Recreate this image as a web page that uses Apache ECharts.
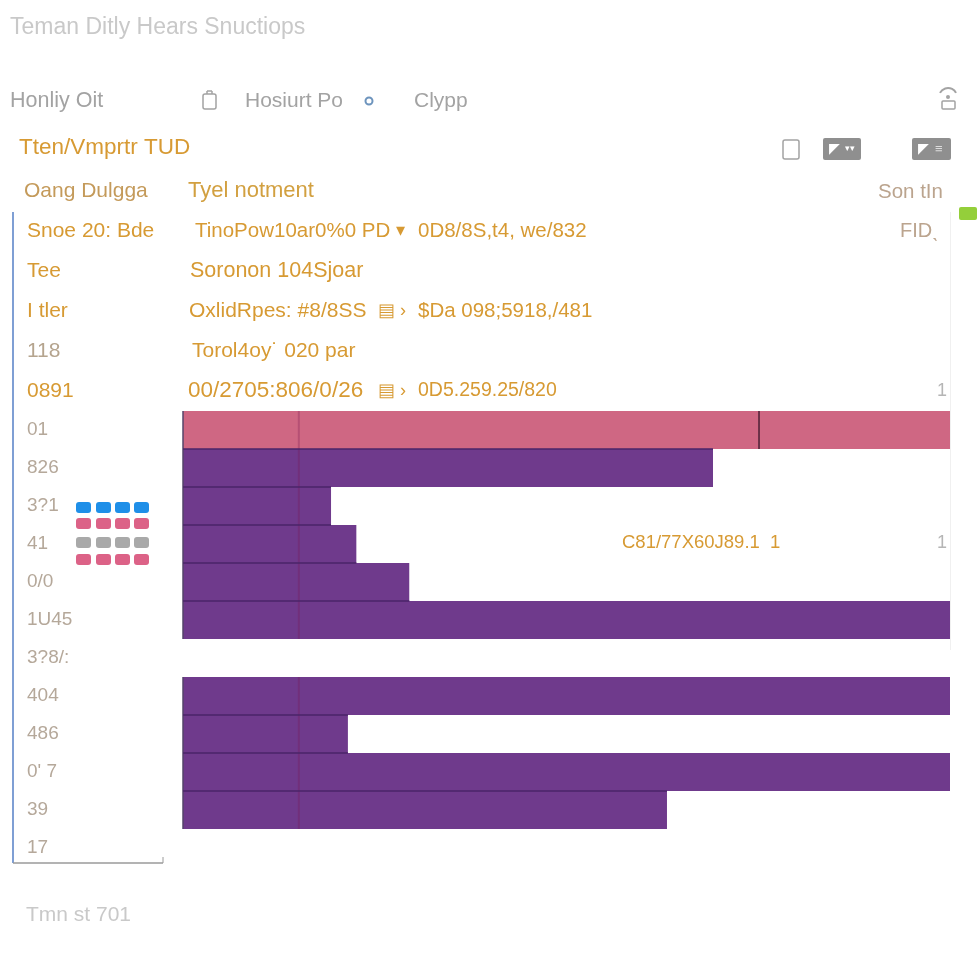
<!DOCTYPE html>
<html>
<head>
<meta charset="utf-8">
<title>Chart</title>
<script src="https://cdn.jsdelivr.net/npm/echarts@6/dist/echarts.min.js"></script>
<style>
  html, body { margin: 0; padding: 0; background: #fff; }
  #main { width: 980px; height: 980px; }
</style>
</head>
<body>
<div id="main"></div>
<script>
// text rows above the bars
const topRowLabels = ["Snoe 20: Bde", "Tee", "I tler", "118", "0891"];
const topRowColors = ["#d79a33", "#d79a33", "#d79a33", "#b5a48e", "#d79a33"];
const detailLeft = ["TinoPow10ar0%0 PD", "Soronon 104Sjoar", "OxlidRpes: #8/8SS", "Torol4oy\u02D9 020 par", "00/2705:806/0/26"];
const detailMarks = ["\u25BE", "", "\u25A4 \u203A", "", "\u25A4 \u203A"];
const detailRight = ["0D8/8S,t4, we/832", "", "$Da 098;5918,/481", "", "0D5.259.25/820"];

// bar rows
const categories = ["01", "826", "3?1", "41", "0/0", "1U45", "3?8/:", "404", "486", "0' 7", "39", "17"];
const pinkValues = [100, null, null, null, null, null, null, null, null, null, null, null];
const purpleValues = [null, 69.1, 19.3, 22.6, 29.5, 100, null, 100, 21.5, 100, 63.1, null];
const faintLineAt = 15.1;
const blackLineAt = 75.1;

const swatchColors = [
  ["#1f8fe8", "#1f8fe8", "#1f8fe8", "#1f8fe8"],
  ["#dc6287", "#dc6287", "#dc6287", "#dc6287"],
  ["#a9a9a9", "#a9a9a9", "#a9a9a9", "#a9a9a9"],
  ["#dc6287", "#dc6287", "#dc6287", "#dc6287"]
];

const FONT = "Liberation Sans";
const GOLD = "#d79a33";
const chart = echarts.init(document.getElementById("main"));

function text(x, y, str, size, fill, align) {
  return {
    type: "text", x: x, y: y, silent: true,
    style: { text: str, fontSize: size, fontFamily: FONT, fill: fill, textAlign: align || "left", textVerticalAlign: "middle" }
  };
}

function line(x1, y1, x2, y2, color, width) {
  return { type: "line", silent: true, shape: { x1: x1, y1: y1, x2: x2, y2: y2 }, style: { stroke: color, lineWidth: width } };
}

function box(x, y, w, h, r, fill, stroke) {
  return {
    type: "rect", silent: true, shape: { x: x, y: y, width: w, height: h, r: r },
    style: stroke ? { fill: "none", stroke: stroke, lineWidth: 1.5 } : { fill: fill }
  };
}

const graphics = [
  text(10, 28, "Teman Ditly Hears Snuctiops", 23, "#c9c9c9"),
  text(10, 101, "Honliy Oit", 21.5, "#a3a3a3"),
  text(245, 101, "Hosiurt Po", 21, "#a3a3a3"),
  text(414, 101, "Clypp", 21, "#a3a3a3"),
  text(19, 148, "Tten/Vmprtr TUD", 22.5, GOLD),
  text(24, 191, "Oang Dulgga", 21, "#c49a5a"),
  text(188, 191, "Tyel notment", 22, "#d2a040"),
  text(878, 192, "Son tIn", 20.5, "#bba48e"),
  text(900, 231, "FID\u02CE", 20, "#bba48e"),
  text(622, 543, "C81/77X60J89.1  1", 18.5, GOLD),
  text(937, 391, "1", 18, "#b5b5b5"),
  text(937, 543, "1", 18, "#b5b5b5"),
  text(26, 915, "Tmn st 701", 21, "#c9c9c9"),
  // icons
  box(203, 94, 13, 15, 2, null, "#a3a3a3"),
  line(207, 94, 207, 91, "#a3a3a3", 1.5),
  line(207, 91, 212, 91, "#a3a3a3", 1.5),
  line(212, 91, 212, 94, "#a3a3a3", 1.5),
  { type: "circle", silent: true, shape: { cx: 369, cy: 101, r: 3.5 }, style: { fill: "none", stroke: "#6d94bd", lineWidth: 2 } },
  box(942, 101, 13, 8, 1, null, "#a3a3a3"),
  { type: "arc", silent: true, shape: { cx: 948, cy: 97, r: 9, startAngle: Math.PI * 1.15, endAngle: Math.PI * 1.85 }, style: { fill: "none", stroke: "#a3a3a3", lineWidth: 2 } },
  { type: "circle", silent: true, shape: { cx: 948, cy: 97, r: 2 }, style: { fill: "#a3a3a3" } },
  box(783, 140, 16, 19, 2, null, "#a3a3a3"),
  box(823, 138, 38, 22, 2, "#8f8f8f"),
  text(829, 149, "\u25E4", 14, "#fff"),
  text(845, 149, "\u25BE\u25BE", 9, "#fff"),
  box(912, 138, 39, 22, 2, "#8f8f8f"),
  text(918, 149, "\u25E4", 14, "#fff"),
  text(935, 149, "\u2261", 13, "#ddd"),
  box(959, 207, 18, 13, 2, "#94cf3a"),
  // frame lines
  line(13, 212, 13, 863, "#7f9fd4", 2),
  line(13, 863, 163, 863, "#9a9a9a", 1.5),
  line(163, 857, 163, 863, "#9a9a9a", 1),
  line(950.5, 212, 950.5, 650, "#f0f0f0", 1)
];

// small legend-like swatch block, built from the colour table
const swatchX = [76, 96, 115, 134];
const swatchY = [502, 518, 537, 554];
swatchColors.forEach(function(row, r) {
  row.forEach(function(c, i) {
    graphics.push(box(swatchX[i], swatchY[r], 15, 11, 3, c));
  });
});

const detailX = [195, 190, 189, 192, 188];
const detailSize = [20.5, 21.5, 21, 21, 22.5];
const marksX = [396, 0, 378, 0, 378];
const rightSize = [20.5, 0, 20.5, 0, 19.5];
detailLeft.forEach(function(s, i) {
  const y = 231 + i * 40;
  graphics.push(text(detailX[i], y, s, detailSize[i], GOLD));
  if (detailMarks[i]) graphics.push(text(marksX[i], y, detailMarks[i], 18, GOLD));
  if (detailRight[i]) graphics.push(text(418, y, detailRight[i], rightSize[i], GOLD));
});

// dark edges and vertical rules over the bars
function renderRules(params, api) {
  const row = api.value(1);
  const value = api.value(0);
  const band = api.size([0, 1])[1];
  const top = api.coord([0, row])[1] - band / 2;
  const x0 = api.coord([0, row])[0];
  const xEnd = api.coord([value, row])[0];
  const children = [
    { type: "line", shape: { x1: x0, y1: top, x2: x0, y2: top + band }, style: { stroke: "#55456a", lineWidth: 1.5 } },
    { type: "line", shape: { x1: api.coord([faintLineAt, row])[0], y1: top, x2: api.coord([faintLineAt, row])[0], y2: top + band }, style: { stroke: "rgba(120,20,80,0.28)", lineWidth: 2 } }
  ];
  const prev = row > 0 ? pinkValues[row - 1] || purpleValues[row - 1] : null;
  if (prev) {
    children.push({ type: "line", shape: { x1: x0, y1: top, x2: Math.min(xEnd, api.coord([prev, row])[0]), y2: top }, style: { stroke: "#4a2468", lineWidth: 1.5 } });
  }
  if (row === 0) {
    const bx = api.coord([blackLineAt, row])[0];
    children.push({ type: "line", shape: { x1: bx, y1: top, x2: bx, y2: top + band }, style: { stroke: "#4b2035", lineWidth: 1.5 } });
  }
  return { type: "group", children: children };
}

const ruleData = [];
categories.forEach(function(c, i) {
  const v = pinkValues[i] || purpleValues[i];
  if (v) ruleData.push([v, i]);
});

function rowAxis(gridIndex, data) {
  return {
    type: "category", gridIndex: gridIndex, inverse: true, data: data,
    offset: 170,
    axisLine: { show: false }, axisTick: { show: false },
    axisLabel: { inside: true, margin: 14, fontFamily: FONT, fontSize: 19, color: "#b5a89a", align: "left" }
  };
}

chart.setOption({
  animation: false,
  backgroundColor: "#fff",
  graphic: graphics,
  grid: [
    { left: 183, right: 30, top: 211, height: 200 },
    { left: 183, right: 30, top: 411, height: 456 }
  ],
  xAxis: [
    { type: "value", gridIndex: 0, min: 0, max: 100, show: false },
    { type: "value", gridIndex: 1, min: 0, max: 100, show: false }
  ],
  yAxis: [
    rowAxis(0, topRowLabels.map(function(s, i) {
      return { value: s, textStyle: { color: topRowColors[i], fontSize: 21 } };
    })),
    rowAxis(1, categories)
  ],
  series: [
    { type: "bar", name: "pink", xAxisIndex: 1, yAxisIndex: 1, stack: "rows", barWidth: "100%", data: pinkValues, itemStyle: { color: "#cf6783" } },
    { type: "bar", name: "purple", xAxisIndex: 1, yAxisIndex: 1, stack: "rows", barWidth: "100%", data: purpleValues, itemStyle: { color: "#6f3a8c" } },
    { type: "custom", name: "rules", xAxisIndex: 1, yAxisIndex: 1, z: 5, silent: true, renderItem: renderRules, data: ruleData, encode: { x: 0, y: 1 } }
  ]
});
</script>
</body>
</html>
